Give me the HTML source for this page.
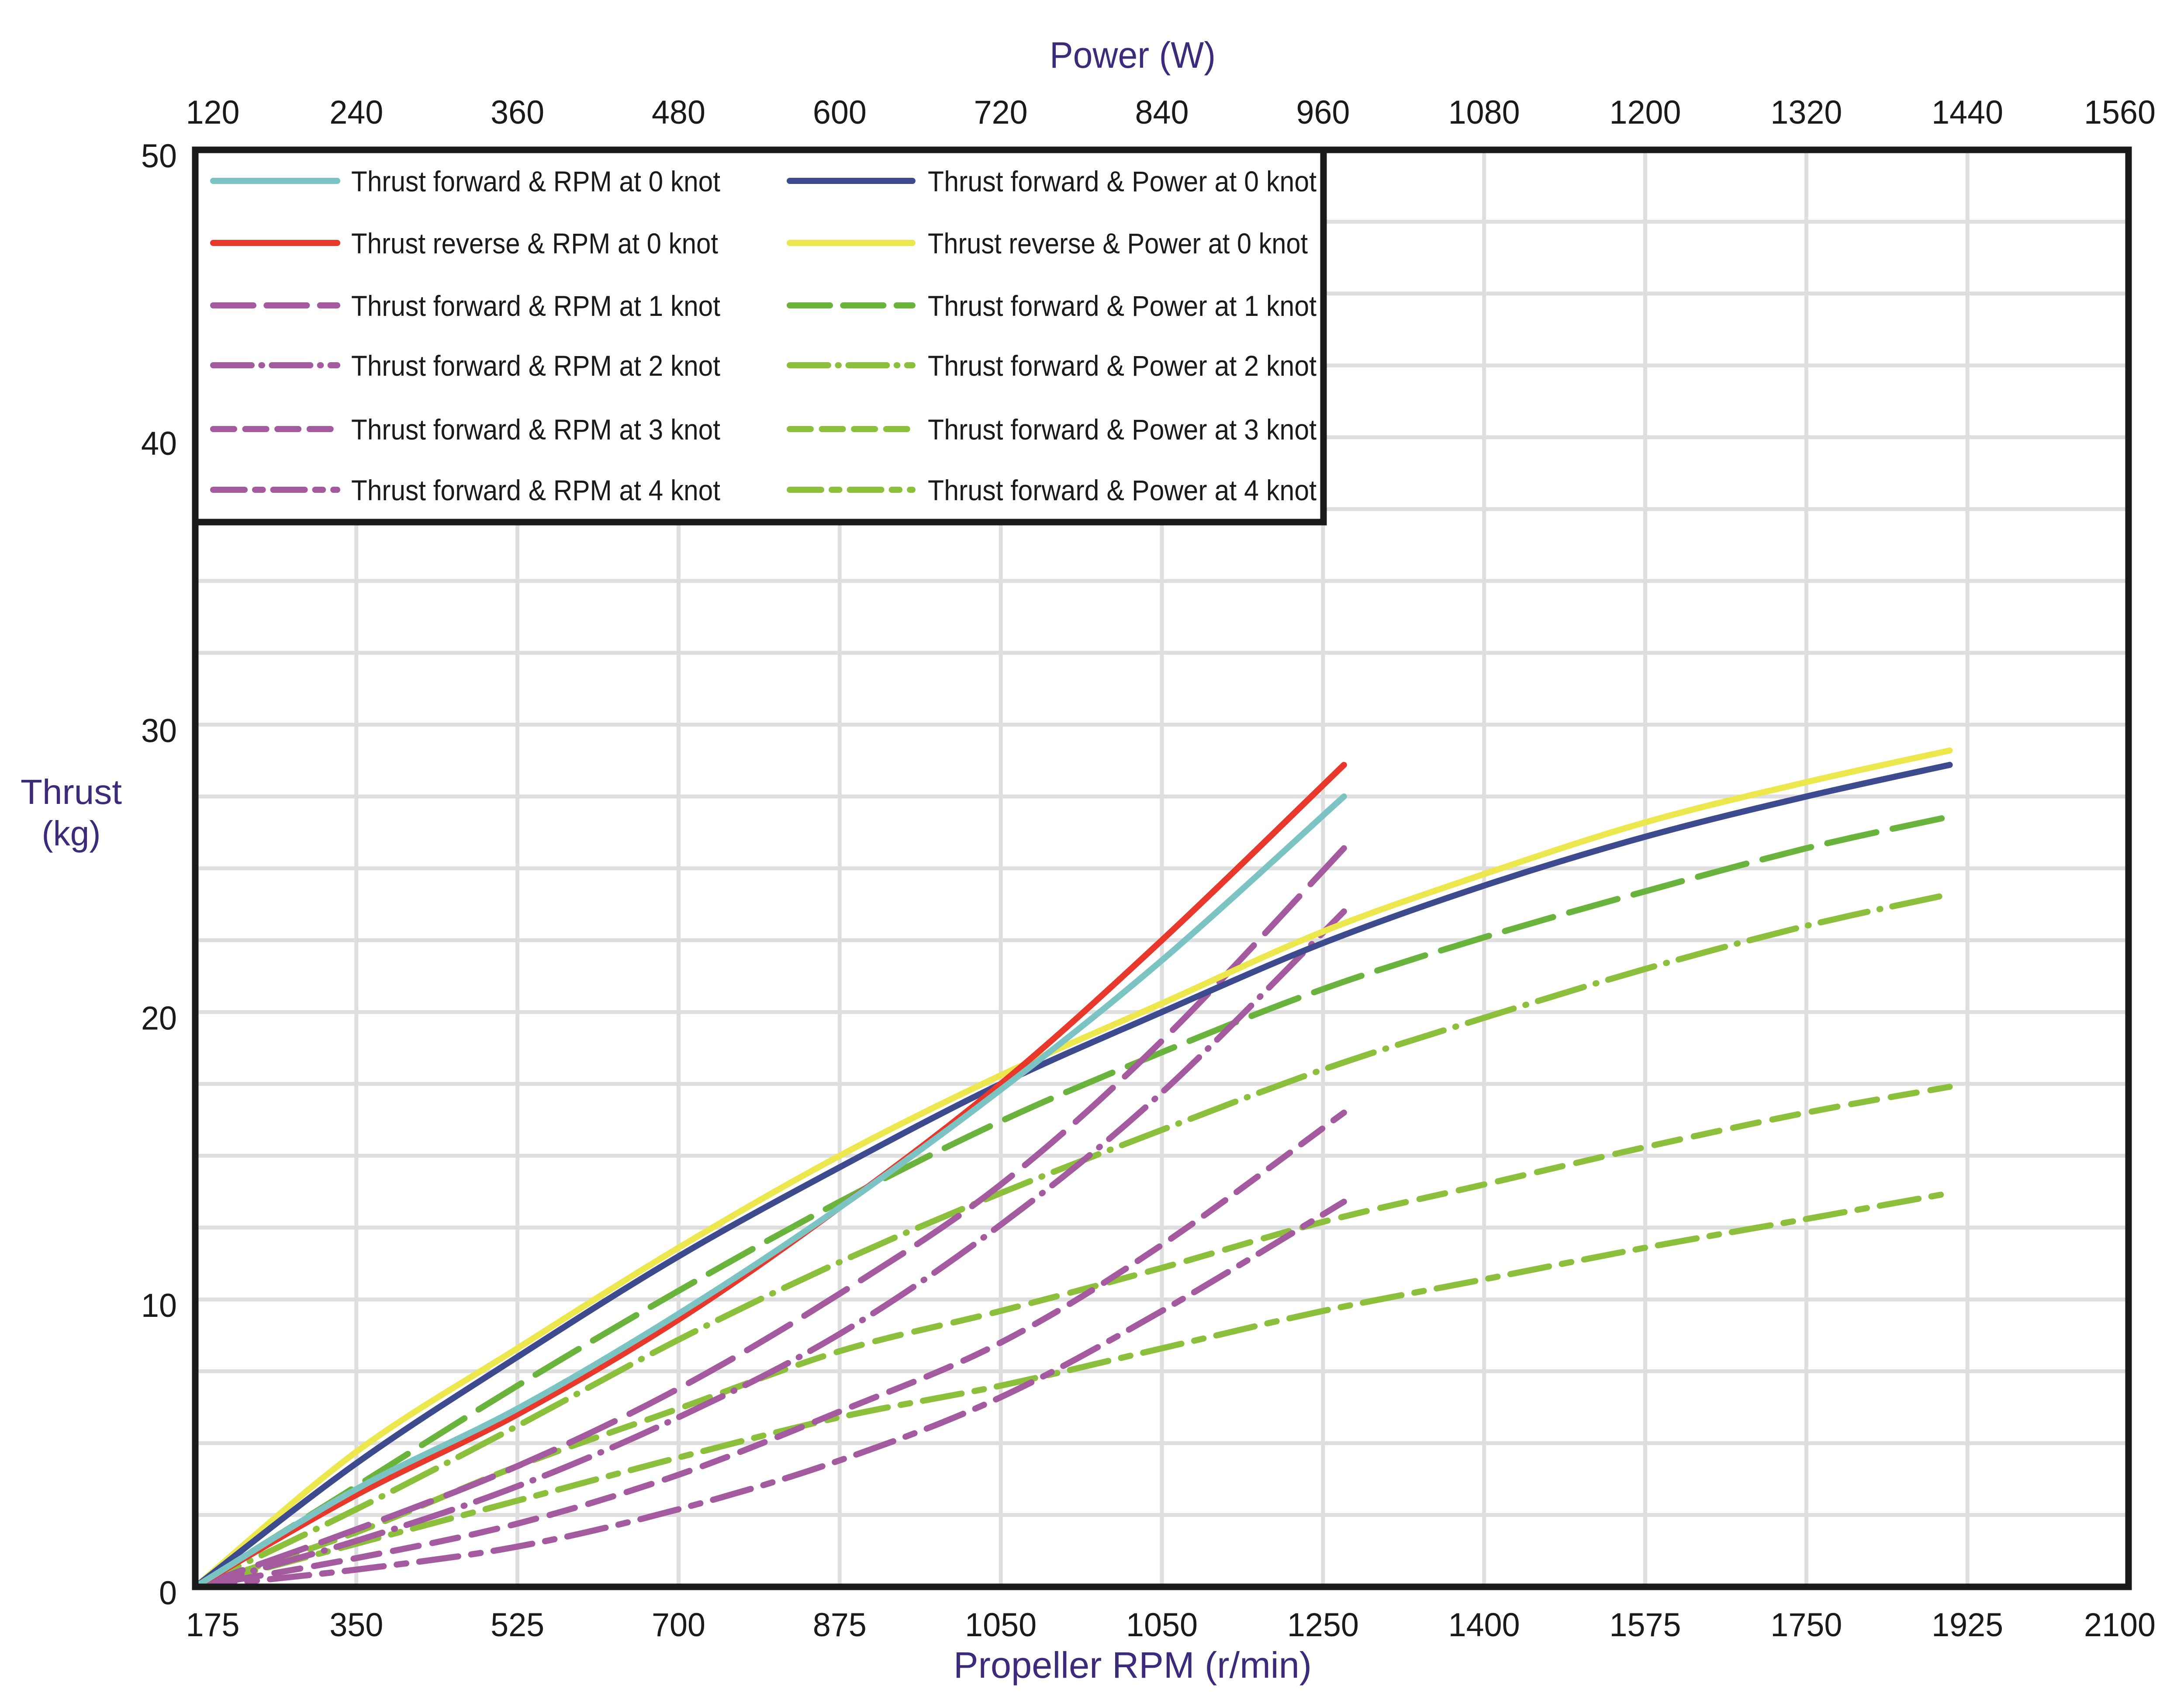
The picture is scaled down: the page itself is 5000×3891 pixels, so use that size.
<!DOCTYPE html>
<html><head><meta charset="utf-8"><style>
html,body{margin:0;padding:0;background:#fff}
svg{display:block}
text{font-family:"Liberation Sans",sans-serif}
</style></head><body>
<svg id="chart" width="5000" height="3891" viewBox="0 0 5000 3891" xmlns="http://www.w3.org/2000/svg">
<g id="grid"></g>
<g id="series"></g>
<rect x="447" y="343" width="4426" height="3289" fill="none" stroke="#1a1a1a" stroke-width="15"/>
<g id="axes"></g>
<g id="legend"></g>
<text x="2593" y="155" font-size="84" fill="#3d2a7a" text-anchor="middle" textLength="380" lengthAdjust="spacingAndGlyphs">Power (W)</text>
<text x="2593" y="3840" font-size="84" fill="#3d2a7a" text-anchor="middle" textLength="820" lengthAdjust="spacingAndGlyphs">Propeller RPM (r/min)</text>
<text x="163" y="1840" font-size="80" fill="#3d2a7a" text-anchor="middle" textLength="232" lengthAdjust="spacingAndGlyphs">Thrust</text>
<text x="163" y="1935" font-size="80" fill="#3d2a7a" text-anchor="middle" textLength="135" lengthAdjust="spacingAndGlyphs">(kg)</text>
</svg>
<script>
// data (x in grid units 0..12 along the RPM/power axes, y in kg)
const bottomTicks = ["175","350","525","700","875","1050","1050","1250","1400","1575","1750","1925","2100"];
const topTicks = ["120","240","360","480","600","720","840","960","1080","1200","1320","1440","1560"];
const yTicks = [0,10,20,30,40,50];
const rpmX = [0,1,2,3,4,5,6,7.13];
const powX = [0,1,2,3,4,5,6,7,8,9,10,10.89];
const fwdRpm0 = [0,3.4,6.2,9.5,13.2,17.3,21.8,27.5];
const revRpm0 = [0,3.2,6.0,9.3,13.2,17.5,22.5,28.6];
const fwdRpm1 = [0,2.0,4.2,6.9,10.2,14.0,19.0,25.7];
const fwdRpm2 = [0,1.6,3.5,5.9,8.8,12.6,17.2,23.5];
const fwdRpm3 = [0,1.0,2.2,3.9,6.1,8.5,11.9,16.5];
const fwdRpm4 = [0,0.6,1.4,2.7,4.4,6.6,9.6,13.4];
const fwdPow0 = [0,4.3,8.0,11.5,14.6,17.5,20.0,22.4,24.4,26.1,27.5,28.6];
const revPow0 = [0,4.7,8.3,11.8,15.0,17.8,20.3,22.8,24.8,26.6,28.0,29.1];
const fwdPow1 = [0,3.5,7.0,10.3,13.4,16.2,18.6,20.8,22.6,24.2,25.7,26.8];
const fwdPow2 = [0,2.7,5.6,8.6,11.3,13.7,15.9,18.0,19.8,21.5,23.0,24.1];
const fwdPow3 = [0,1.9,4.2,6.2,8.2,9.6,11.1,12.7,14.0,15.3,16.5,17.4];
const fwdPow4 = [0,1.5,3.0,4.5,5.9,7.0,8.3,9.6,10.7,11.8,12.8,13.7];

const L=447,R=4873,T=343,B=3632;
const sx = g => L + g*(R-L)/12;
const sy = v => B - v*(B-T)/50;
const NS="http://www.w3.org/2000/svg";
function mk(tag, parent, attrs){const e=document.createElementNS(NS,tag);for(const k in attrs)e.setAttribute(k,attrs[k]);parent.appendChild(e);return e;}

const grid=document.getElementById('grid');
for(let i=1;i<12;i++){
  const l=mk('line',grid,{x1:sx(i),x2:sx(i),y1:T,y2:B,stroke:'#dedede','stroke-width':9});
  
  
}
for(let v=2.5;v<50;v+=2.5){
  const l=mk('line',grid,{x1:L,x2:R,y1:sy(v),y2:sy(v),stroke:'#dedede','stroke-width':9});
  
  
}
const axes=document.getElementById('axes');
bottomTicks.forEach((t,i)=>{
  const e=mk('text',axes,{x:sx(i)+(i===0?40:0)-(i===12?20:0),y:3745,'font-size':76,fill:'#1a1a1a','text-anchor':'middle',textLength:t.length*41,lengthAdjust:'spacingAndGlyphs'});
  e.textContent=t;
  
  
});
topTicks.forEach((t,i)=>{
  const e=mk('text',axes,{x:sx(i)+(i===0?40:0)-(i===12?20:0),y:283,'font-size':76,fill:'#1a1a1a','text-anchor':'middle',textLength:t.length*41,lengthAdjust:'spacingAndGlyphs'});
  e.textContent=t;
  
  
});
yTicks.forEach(v=>{
  const e=mk('text',axes,{x:405,y:sy(v)+40,'font-size':76,fill:'#1a1a1a','text-anchor':'end',textLength:String(v).length*41,lengthAdjust:'spacingAndGlyphs'});
  e.textContent=String(v);
  
  
});

function pathFrom(xs,ys){
  const p=xs.map((x,i)=>[sx(x),sy(ys[i])]);
  let d=`M${p[0][0]},${p[0][1]}`;
  for(let i=0;i<p.length-1;i++){
    const p0=p[Math.max(0,i-1)],p1=p[i],p2=p[i+1],p3=p[Math.min(p.length-1,i+2)];
    const c1=[p1[0]+(p2[0]-p0[0])/6,p1[1]+(p2[1]-p0[1])/6];
    const c2=[p2[0]-(p3[0]-p1[0])/6,p2[1]-(p3[1]-p1[1])/6];
    d+=` C${c1[0]},${c1[1]} ${c2[0]},${c2[1]} ${p2[0]},${p2[1]}`;
  }
  return d;
}
const series=[
 {n:'fwd-power-4knot',xs:powX,ys:fwdPow4,c:'#8cc03c',d:'90 30 22 30',lab:'Thrust forward & Power at 4 knot',col:1,row:5},
 {n:'fwd-power-3knot',xs:powX,ys:fwdPow3,c:'#8cc03c',d:'60 32',lab:'Thrust forward & Power at 3 knot',col:1,row:4},
 {n:'fwd-power-2knot',xs:powX,ys:fwdPow2,c:'#8cc03c',d:'110 28 2 28',lab:'Thrust forward & Power at 2 knot',col:1,row:3},
 {n:'fwd-power-1knot',xs:powX,ys:fwdPow1,c:'#6ab43e',d:'115 38',lab:'Thrust forward & Power at 1 knot',col:1,row:2},
 {n:'fwd-rpm-4knot',xs:rpmX,ys:fwdRpm4,c:'#a45a9e',d:'90 30 22 30',lab:'Thrust forward &  RPM at 4 knot',col:0,row:5},
 {n:'fwd-rpm-3knot',xs:rpmX,ys:fwdRpm3,c:'#a45a9e',d:'60 32',lab:'Thrust forward &  RPM at 3 knot',col:0,row:4},
 {n:'fwd-rpm-2knot',xs:rpmX,ys:fwdRpm2,c:'#a45a9e',d:'110 28 2 28',lab:'Thrust forward &  RPM at 2 knot',col:0,row:3},
 {n:'fwd-rpm-1knot',xs:rpmX,ys:fwdRpm1,c:'#a45a9e',d:'115 38',lab:'Thrust forward &  RPM at 1 knot',col:0,row:2},
 {n:'rev-power-0knot',xs:powX,ys:revPow0,c:'#ece74c',d:'',lab:'Thrust reverse & Power at 0 knot',col:1,row:1},
 {n:'fwd-power-0knot',xs:powX,ys:fwdPow0,c:'#3d4a8e',d:'',lab:'Thrust forward & Power at 0 knot',col:1,row:0},
 {n:'rev-rpm-0knot',xs:rpmX,ys:revRpm0,c:'#e8382c',d:'',lab:'Thrust reverse  &  RPM at 0 knot',col:0,row:1},
 {n:'fwd-rpm-0knot',xs:rpmX,ys:fwdRpm0,c:'#7cc4c4',d:'',lab:'Thrust forward &  RPM at 0 knot',col:0,row:0}
];
const sg=document.getElementById('series');
series.forEach(s=>{
  const a={d:pathFrom(s.xs,s.ys),fill:'none',stroke:s.c,'stroke-width':14,'stroke-linecap':'round','stroke-linejoin':'round'};
  if(s.d)a['stroke-dasharray']=s.d;
  const e=mk('path',sg,a);
  
  
});
const lg=document.getElementById('legend');
const box=mk('rect',lg,{x:447,y:343,width:2583,height:852,fill:'#fff',stroke:'#1a1a1a','stroke-width':15});


const rowsY=[414,556,699,836,982,1121];
const colX=[[488,772,804],[1808,2089,2124]];
series.slice().reverse().forEach(s=>{
  const y=rowsY[s.row],cx=colX[s.col];
  const g=mk('g',lg,{});
  
  
  const a={x1:cx[0],x2:cx[1],y1:y,y2:y,stroke:s.c,'stroke-width':14,'stroke-linecap':'round'};
  if(s.d)a['stroke-dasharray']=s.d.split(' ').map(v=>v*0.8).join(' ');
  const l=mk('line',g,a);
  
  
  const w = s.lab.startsWith('Thrust reverse  ')?840:(s.col===0?845:(s.lab.startsWith('Thrust reverse')?870:890));
  const t=mk('text',g,{x:cx[2],y:y+24,'font-size':66,fill:'#1a1a1a',textLength:w,lengthAdjust:'spacingAndGlyphs','xml:space':'preserve'});
  t.textContent=s.lab;
  
  
});
</script>
</body></html>
